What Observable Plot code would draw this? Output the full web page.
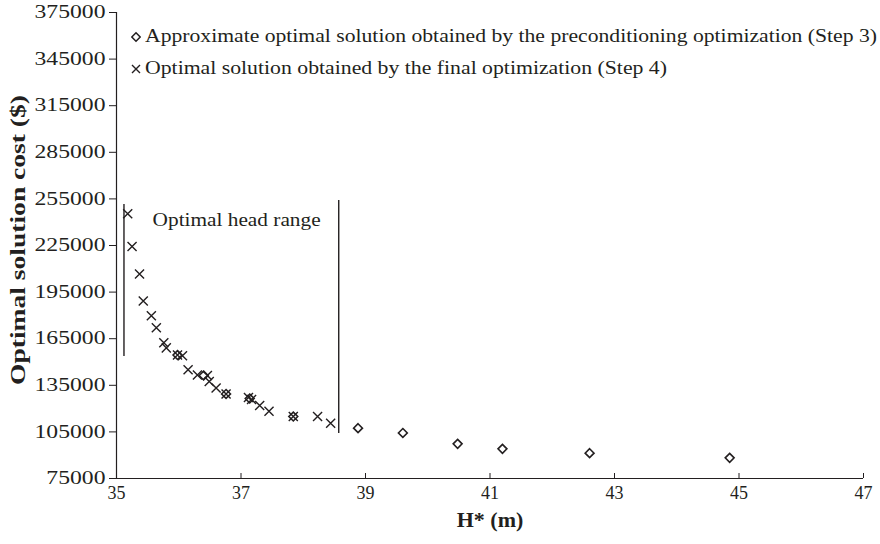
<!DOCTYPE html>
<html><head><meta charset="utf-8">
<script src="https://cdn.jsdelivr.net/npm/d3@7"></script>
<script src="https://cdn.jsdelivr.net/npm/@observablehq/plot@0.6"></script>
<style>
body{margin:0;background:#fff;}
#wrap{position:relative;width:880px;height:544px;font-family:"Liberation Serif","Times New Roman",serif;color:#231f20;}
.leg{position:absolute;left:131px;font-size:18px;white-space:nowrap;display:flex;align-items:center;}
.leg svg{margin-right:4px;flex:none;}
.leg span{display:inline-block;transform-origin:0 50%;}
</style></head><body><div id="wrap"></div>
<script>
// Step 3: approximate optimal solutions (preconditioning optimization)
const step3H    = [35.98, 36.40, 36.76, 37.14, 37.84, 38.88, 39.60, 40.48, 41.20, 42.60, 44.85];
const step3Cost = [154500, 141300, 129400, 126500, 114900, 107400, 104300, 97300, 94100, 91300, 88300];
// Step 4: optimal solutions (final optimization)
const step4H    = [35.18, 35.25, 35.37, 35.43, 35.56, 35.64, 35.76, 35.80, 35.98, 36.06, 36.15, 36.30, 36.46, 36.49, 36.60, 36.76, 37.12, 37.17, 37.30, 37.45, 37.84, 38.23, 38.44];
const step4Cost = [245400, 224400, 206700, 189300, 179800, 172000, 162400, 159100, 154500, 154000, 145000, 141600, 141300, 137400, 133300, 129400, 127100, 125900, 122000, 118300, 114900, 114900, 110600];
// Optimal head range bounds
const rangeH      = [35.12, 38.57];
const rangeTop    = [251400, 254000];
const rangeBottom = [153500, 104000];
const rangeLabel  = ["Optimal head range"];
const rangeLabelH = [35.58];
const rangeLabelCost = [241700];
// Axes
const xTicks = [35, 37, 39, 41, 43, 45, 47];
const yTicks = [75000, 105000, 135000, 165000, 195000, 225000, 255000, 285000, 315000, 345000, 375000];
const xTitle = "H* (m)";
const yTitle = "Optimal solution cost ($)";
const legend3 = "Approximate optimal solution obtained by the preconditioning optimization (Step 3)";
const legend4 = "Optimal solution obtained by the final optimization (Step 4)";

const ink = "#231f20";
const s3 = step3H.map((h, i) => ({h, c: step3Cost[i]}));
const s4 = step4H.map((h, i) => ({h, c: step4Cost[i]}));
const ranges = rangeH.map((h, i) => ({h, top: rangeTop[i], bottom: rangeBottom[i]}));

const chart = Plot.plot({
  width: 880, height: 544,
  marginLeft: 116, marginRight: 17, marginTop: 12, marginBottom: 66,
  style: {fontFamily: '"Liberation Serif","Times New Roman",serif', color: ink, background: "#fff"},
  x: {domain: [35, 47], ticks: xTicks},
  y: {domain: [75000, 375000], ticks: yTicks},
  marks: [
    Plot.axisY({ticks: yTicks, tickFormat: d => String(d), tickSize: 7, tickPadding: 4, fontSize: 18, label: null, stroke: ink}),
    Plot.axisX({ticks: xTicks, tickFormat: d => String(d), tickSize: 0, tickPadding: 8, fontSize: 18, label: null}),
    Plot.axisX({ticks: xTicks, tickSize: -5, text: null, label: null, stroke: ink}),
    Plot.ruleX([35], {stroke: ink, strokeWidth: 1.2}),
    Plot.ruleY([75000], {stroke: ink, strokeWidth: 1.2}),
    Plot.ruleX(ranges, {x: "h", y1: "bottom", y2: "top", stroke: ink, strokeWidth: 1.4}),
    Plot.text(rangeLabel, {x: rangeLabelH, y: rangeLabelCost, text: d => d, textAnchor: "start", fontSize: 19, fill: ink}),
    Plot.dot(s3, {x: "h", y: "c", symbol: "diamond2", r: 4, stroke: ink, strokeWidth: 1.6}),
    Plot.dot(s4, {x: "h", y: "c", symbol: "times", r: 4.2, stroke: ink, strokeWidth: 1.4})
  ]
});
const wrap = document.getElementById("wrap");
wrap.appendChild(chart);

// widen glyphs to the reference's proportions
d3.select(chart).selectAll("g[aria-label='y-axis tick label'] text").each(function() {
  const n = this.textContent.length;
  this.setAttribute("textLength", (71 / 6 * n).toFixed(1));
  this.setAttribute("lengthAdjust", "spacingAndGlyphs");
});
d3.select(chart).selectAll("g[aria-label='text'] text").attr("textLength", 168).attr("lengthAdjust", "spacingAndGlyphs");

function stretch(el, target) {
  const w = el.getBoundingClientRect().width;
  return target / w;
}
const xt = document.createElement("div");
xt.textContent = xTitle;
Object.assign(xt.style, {position: "absolute", whiteSpace: "nowrap", fontWeight: "bold", fontSize: "22px", left: "490px", top: "507px", transform: "translateX(-50%)"});
wrap.appendChild(xt);

const yt = document.createElement("div");
yt.textContent = yTitle;
Object.assign(yt.style, {position: "absolute", whiteSpace: "nowrap", fontWeight: "bold", fontSize: "21px", left: "18px", top: "240px"});
wrap.appendChild(yt);
const ys = stretch(yt, 290);
yt.style.transform = `translate(-50%,-50%) rotate(-90deg) scaleX(${ys})`;

function legendRow(txt, top, shape, target) {
  const d = document.createElement("div");
  d.className = "leg";
  d.style.top = top + "px";
  const sym = shape === "diamond"
    ? '<svg width="10" height="12" viewBox="-5 -6 10 12"><path d="M0,-4.2L4.2,0L0,4.2L-4.2,0Z" fill="none" stroke="' + ink + '" stroke-width="1.5"/></svg>'
    : '<svg width="10" height="12" viewBox="-5 -6 10 12"><path d="M-4,-4L4,4M4,-4L-4,4" fill="none" stroke="' + ink + '" stroke-width="1.4"/></svg>';
  d.innerHTML = sym + '<span></span>';
  const sp = d.querySelector("span");
  sp.textContent = txt;
  wrap.appendChild(d);
  sp.style.transform = `scaleX(${stretch(sp, target)})`;
}
legendRow(legend3, 26, "diamond", 732);
legendRow(legend4, 58, "times", 522);
</script></body></html>
